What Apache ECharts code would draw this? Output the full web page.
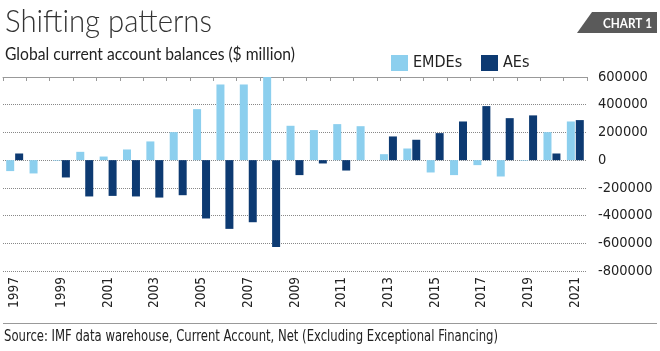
<!DOCTYPE html>
<html><head><meta charset="utf-8">
<script src="https://cdn.jsdelivr.net/npm/echarts@6/dist/echarts.min.js"></script>
<style>html,body{margin:0;padding:0;background:#fff}#c{width:660px;height:351px}</style>
</head><body><div id="c"></div>
<script>
const years = ['1997','1998','1999','2000','2001','2002','2003','2004','2005','2006','2007','2008','2009','2010','2011','2012','2013','2014','2015','2016','2017','2018','2019','2020','2021'];
const emdes = [-79000,-96000,-4000,60000,26000,77000,135000,202000,368000,546000,546000,600000,248000,217000,260000,245000,43000,84000,-89000,-108000,-36000,-118000,-4000,202000,279000];
const aes = [48000,0,-125000,-262000,-258000,-262000,-270000,-253000,-421000,-496000,-448000,-626000,-108000,-24000,-75000,0,171000,147000,195000,279000,390000,303000,323000,48000,289000];
const yTicks = {min:-800000, max:600000, interval:200000};

const COND = '"DejaVu Sans Condensed", "DejaVu Sans", sans-serif';
const ctx = document.createElement('canvas').getContext('2d');
function fit(text, font, w){ ctx.font = font; return w / ctx.measureText(text).width; }

const TITLE = 'Shifting patterns', TITLE_F = '300 32px Lato';
const SUB = 'Global current account balances ($ million)', SUB_F = '17px Lato';
const SRC = 'Source: IMF data warehouse, Current Account, Net (Excluding Exceptional Financing)', SRC_F = '15px ' + COND;
const TAG = 'CHART 1', TAG_F = 'bold 14px Lato';

const chart = echarts.init(document.getElementById('c'), null, {renderer:'canvas'});
chart.setOption({
  backgroundColor:'#fff',
  animation:false,
  grid:{left:3, right:73, top:77, bottom:80},
  legend:[{
    left:386, top:50, itemWidth:17, itemHeight:16, icon:'rect',
    textStyle:{fontFamily:COND, fontSize:16, color:'#222'},
    data:['EMDEs']
  },{
    left:476, top:50, itemWidth:17, itemHeight:16, icon:'rect',
    textStyle:{fontFamily:COND, fontSize:16, color:'#222'},
    data:['AEs']
  }],
  xAxis:[{
    type:'category', data:years, position:'bottom',
    axisLine:{show:false}, axisTick:{show:false},
    axisLabel:{interval:1, rotate:90, margin:6, fontFamily:COND, fontSize:13.5, color:'#222'}
  },{
    type:'category', data:years, position:'top',
    axisLine:{onZero:true, lineStyle:{color:'#999', width:1}},
    axisTick:{show:true, inside:true, interval:0, length:4, lineStyle:{color:'#999'}},
    axisLabel:{show:false}
  }],
  yAxis:{
    type:'value', position:'right', min:yTicks.min, max:yTicks.max, interval:yTicks.interval,
    axisLine:{show:false}, axisTick:{show:false},
    axisLabel:{margin:11, fontFamily:COND, fontSize:14.5, color:'#222', formatter:function(v){return String(v);}},
    splitLine:{lineStyle:{type:'dotted', color:'#888', width:1}}
  },
  series:[
    {name:'EMDEs', type:'bar', data:emdes, barWidth:8, barGap:'12%', itemStyle:{color:'#8ccfee'}},
    {name:'AEs', type:'bar', data:aes, barWidth:8, barGap:'12%', itemStyle:{color:'#0d3a72'}}
  ],
  graphic:[
    {type:'text', x:5, y:6, scaleX:fit(TITLE, TITLE_F, 207), style:{text:TITLE, font:TITLE_F, fill:'#333'}},
    {type:'text', x:5, y:46, scaleX:fit(SUB, SUB_F, 290), style:{text:SUB, font:SUB_F, fill:'#222'}},
    {type:'polygon', shape:{points:[[592,12],[657,12],[657,33],[577,33]]}, style:{fill:'#5a5a5a'}},
    {type:'text', x:627.5, y:23, scaleX:fit(TAG, TAG_F, 49), style:{text:TAG, font:TAG_F, fill:'#fff', align:'center', verticalAlign:'middle'}},
    {type:'line', shape:{x1:3, y1:323.5, x2:657, y2:323.5}, style:{stroke:'#999', lineWidth:1}},
    {type:'text', x:4, y:337, scaleX:fit(SRC, SRC_F, 494), style:{text:SRC, font:SRC_F, fill:'#222', verticalAlign:'middle'}}
  ]
});
</script></body></html>
